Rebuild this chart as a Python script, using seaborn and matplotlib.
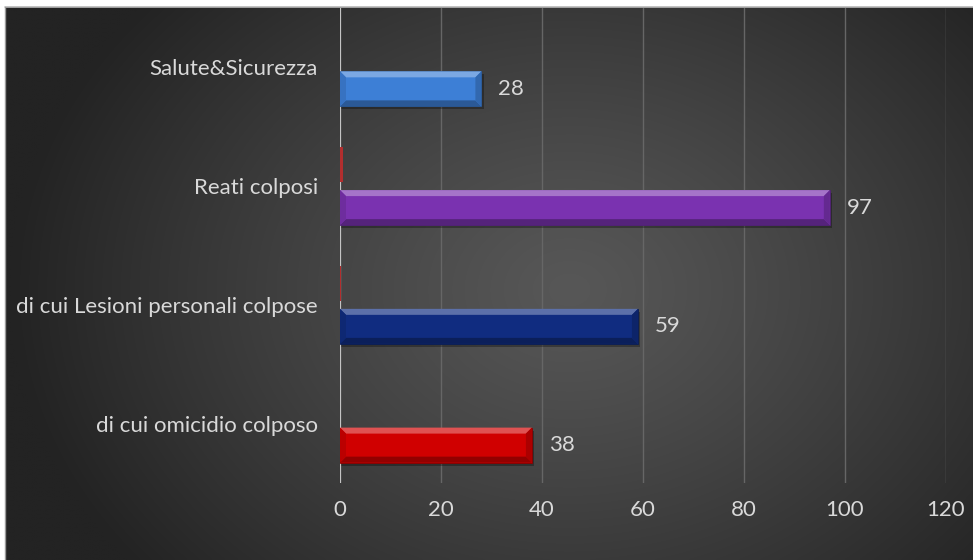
import numpy as np
import pandas as pd
import matplotlib
matplotlib.use("Agg")
import matplotlib.pyplot as plt
from matplotlib.patches import Polygon, Rectangle
from matplotlib.colors import to_rgb
import seaborn as sns

# ---- data -------------------------------------------------------------
categories = ["Salute&Sicurezza", "Reati colposi",
              "di cui Lesioni personali colpose", "di cui omicidio colposo"]
main_values = [28, 97, 59, 38]
side_values = [0, 0.5, 0.2, 0]
series_names = ["secondaria", "principale"]
bar_colors = ["#3d7fd6", "#7a32b0", "#102c80", "#d00000"]
side_color = "#c81818"
xticks = [0, 20, 40, 60, 80, 100, 120]

df = pd.DataFrame({
    "categoria": categories * 2,
    "valore": side_values + main_values,
    "serie": [series_names[0]] * len(categories) + [series_names[1]] * len(categories),
})

sns.set_theme(style="dark")
plt.rcParams["font.family"] = ["Lato", "DejaVu Sans"]

W, H = 973, 560
fig = plt.figure(figsize=(W / 100, H / 100), dpi=100, facecolor="white")

# ---- dark panel with radial shading ------------------------------------
px0, py0 = 5, 7
bg = fig.add_axes([px0 / W, 0, 1 - px0 / W, 1 - py0 / H])
gx, gy = np.meshgrid(np.linspace(px0, W, 400), np.linspace(py0, H, 240))
r = np.sqrt(((gx - 570) / 560) ** 2 + ((gy - 290) / 440) ** 2)
t = np.clip(r, 0, 1) ** 1.2
inner, outer = np.array(to_rgb("#575757")), np.array(to_rgb("#232323"))
img = inner[None, None, :] * (1 - t[..., None]) + outer[None, None, :] * t[..., None]
bg.imshow(img, extent=[px0, W, H, py0], aspect="auto", interpolation="bilinear")
bg.set_xlim(px0, W)
bg.set_ylim(H, py0)
bg.axis("off")
fig.add_artist(plt.Line2D([px0 / W, 1], [1 - py0 / H, 1 - py0 / H],
                          transform=fig.transFigure, color="#b8b8b8", lw=1.2))
fig.add_artist(plt.Line2D([px0 / W, px0 / W], [0, 1 - py0 / H],
                          transform=fig.transFigure, color="#9a9a9a", lw=1.0))

# ---- bar chart --------------------------------------------------------
ax_left, ax_right = 340, 946
ax_top, ax_bottom = 8, 483
ax = fig.add_axes([ax_left / W, 1 - ax_bottom / H,
                   (ax_right - ax_left) / W, (ax_bottom - ax_top) / H])
ax.patch.set_alpha(0)

sns.barplot(data=df, x="valore", y="categoria", hue="serie",
            hue_order=series_names, order=categories, orient="h",
            palette=[side_color, bar_colors[0]], width=0.724, gap=0.185,
            legend=False, ax=ax, zorder=3)

ax.set_xlim(0, 120)
ax.set_xticks(xticks)
ax.set_xlabel("")
ax.set_ylabel("")
for s in ax.spines.values():
    s.set_visible(False)
ax.grid(False)
for v in xticks[1:]:
    ax.axvline(v, color="#666666", lw=1.0, zorder=1)
ax.axvline(0, color="#c4c4c4", lw=1.6, zorder=2.5)

ax.tick_params(axis="x", length=0, pad=12, labelsize=16, labelcolor="#d9d9d9")
ax.tick_params(axis="y", length=0, pad=16, labelsize=16, labelcolor="#d9d9d9")

side_container, main_container = ax.containers[0], ax.containers[1]


def shade(c, f):
    c = np.array(to_rgb(c))
    return tuple(np.clip(c + (1 - c) * f, 0, 1)) if f > 0 else tuple(c * (1 + f))


# pixel -> data scale for bevel sizes
fig.canvas.draw()
inv = ax.transData.inverted()
p0 = inv.transform((0, 0))
p1 = inv.transform((6, 6))
bx, by = abs(p1[0] - p0[0]), abs(p1[1] - p0[1])
s1 = inv.transform((3, 3))
sx, sy = abs(s1[0] - p0[0]), abs(s1[1] - p0[1])

for patch, col in zip(main_container.patches, bar_colors):
    patch.set_facecolor(col)
    patch.set_edgecolor(shade(col, -0.35))
    patch.set_linewidth(0.6)
    x0, y0 = patch.get_x(), patch.get_y()
    w, h = patch.get_width(), patch.get_height()
    x1, y1 = x0 + w, y0 + h  # y0 is the upper edge (axis inverted)
    # drop shadow
    ax.add_patch(Rectangle((x0, y0 + sy), w + sx * 0.8, h, facecolor="black",
                           alpha=0.3, lw=0, zorder=2))
    # bevel faces
    ax.add_patch(Polygon([(x0, y0), (x1, y0), (x1 - bx, y0 + by), (x0 + bx, y0 + by)],
                         closed=True, facecolor=shade(col, 0.32), lw=0, zorder=4))
    ax.add_patch(Polygon([(x0, y1), (x1, y1), (x1 - bx, y1 - by), (x0 + bx, y1 - by)],
                         closed=True, facecolor=shade(col, -0.3), lw=0, zorder=4))
    ax.add_patch(Polygon([(x1, y0), (x1, y1), (x1 - bx, y1 - by), (x1 - bx, y0 + by)],
                         closed=True, facecolor=shade(col, -0.18), lw=0, zorder=4))
    ax.add_patch(Polygon([(x0, y0), (x0, y1), (x0 + bx, y1 - by), (x0 + bx, y0 + by)],
                         closed=True, facecolor=shade(col, -0.1), lw=0, zorder=4))

for patch in side_container.patches:
    patch.set_edgecolor("none")
    patch.set_zorder(3)

ax.bar_label(main_container, labels=[str(v) for v in main_values], padding=12,
             fontsize=16, color="#d9d9d9")

fig.savefig("out.png", dpi=100, facecolor="white")
